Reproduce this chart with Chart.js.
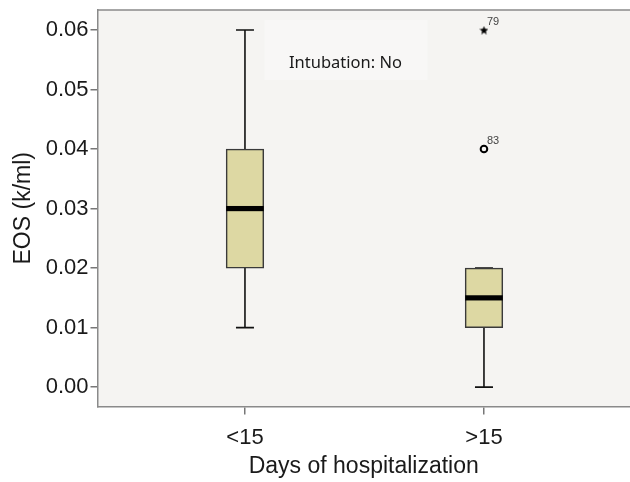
<!DOCTYPE html>
<html>
<head>
<meta charset="utf-8">
<script src="https://cdn.jsdelivr.net/npm/chart.js@4.4.1/dist/chart.umd.min.js"></script>
<style>
  html, body { margin: 0; padding: 0; background: #ffffff; }
  #wrap { width: 630px; height: 482px; position: relative; }
</style>
</head>
<body>
<div id="wrap"><canvas id="c" width="630" height="482"></canvas></div>
<script>
// ---- data ----
const categories = ['<15', '>15'];
const whiskerMin = [0.01, 0.00];
const q1Values = [0.02, 0.01];
const medianValues = [0.03, 0.015];
const q3Values = [0.04, 0.02];
const whiskerMax = [0.06, 0.02];
const outlierCategory = [1, 1];          // index into categories
const outlierValues = [0.06, 0.04];
const outlierLabels = ['79', '83'];
const outlierKinds = ['extreme', 'outlier'];
const yTickValues = [0, 0.01, 0.02, 0.03, 0.04, 0.05, 0.06];
const annotationText = 'Intubation: No';

// star point image for the extreme value
function makeStar(size) {
  const cv = document.createElement('canvas');
  cv.width = size; cv.height = size;
  const g = cv.getContext('2d');
  const cx = size / 2, cy = size / 2 + 0.5, R = size / 2, r = R * 0.45;
  g.beginPath();
  for (let i = 0; i < 10; i++) {
    const ang = -Math.PI / 2 + i * Math.PI / 5;
    const rad = i % 2 === 0 ? R : r;
    g.lineTo(cx + rad * Math.cos(ang), cy + rad * Math.sin(ang));
  }
  g.closePath();
  g.fillStyle = '#000';
  g.fill();
  return cv;
}
const starImg = makeStar(9);

const boxData = categories.map((c, i) => ({ x: i + 1, y: [q1Values[i], q3Values[i]] }));
const outlierData = outlierValues.map((v, i) => ({ x: outlierCategory[i] + 1, y: v }));

const bgPlugin = {
  id: 'bg',
  beforeDraw(chart) {
    const { ctx, chartArea: a } = chart;
    ctx.save();
    ctx.fillStyle = '#f5f4f2';
    ctx.fillRect(a.left, a.top, a.right - a.left, a.bottom - a.top);
    // annotation box
    const bx = a.left + 167, by = a.top + 10, bw = 163, bh = 60;
    ctx.fillStyle = '#f8f7f6';
    ctx.fillRect(bx, by, bw, bh);
    ctx.fillStyle = '#1a1a1a';
    ctx.font = '16.5px "Noto Sans"';
    ctx.textAlign = 'center';
    ctx.textBaseline = 'middle';
    ctx.fillText(annotationText, bx + bw / 2 - 0.5, by + 43);
    // top border
    ctx.strokeStyle = '#8a8a8a';
    ctx.lineWidth = 1.5;
    ctx.beginPath();
    ctx.moveTo(a.left, a.top);
    ctx.lineTo(a.right, a.top);
    ctx.stroke();
    ctx.restore();
  }
};

const boxPlugin = {
  id: 'boxparts',
  beforeDatasetsDraw(chart) {
    const { ctx, scales: { x, y } } = chart;
    ctx.save();
    ctx.strokeStyle = '#111';
    ctx.lineWidth = 1.6;
    categories.forEach((c, i) => {
      const px = x.getPixelForValue(i + 1);
      const capHalf = 9;
      ctx.beginPath();
      ctx.moveTo(px, y.getPixelForValue(q3Values[i]));
      ctx.lineTo(px, y.getPixelForValue(whiskerMax[i]));
      ctx.moveTo(px - capHalf, y.getPixelForValue(whiskerMax[i]));
      ctx.lineTo(px + capHalf, y.getPixelForValue(whiskerMax[i]));
      ctx.moveTo(px, y.getPixelForValue(q1Values[i]));
      ctx.lineTo(px, y.getPixelForValue(whiskerMin[i]));
      ctx.moveTo(px - capHalf, y.getPixelForValue(whiskerMin[i]));
      ctx.lineTo(px + capHalf, y.getPixelForValue(whiskerMin[i]));
      ctx.stroke();
    });
    ctx.restore();
  },
  afterDatasetsDraw(chart) {
    const { ctx, scales: { x, y } } = chart;
    ctx.save();
    const meta = chart.getDatasetMeta(0);
    categories.forEach((c, i) => {
      const bar = meta.data[i];
      const half = bar.width / 2;
      const px = x.getPixelForValue(i + 1);
      const py = y.getPixelForValue(medianValues[i]);
      ctx.fillStyle = '#000';
      ctx.fillRect(px - half, py - 2.6, half * 2, 5.2);
    });
    const m2 = chart.getDatasetMeta(1);
    ctx.fillStyle = '#444';
    ctx.font = '11px "Liberation Sans", Arial';
    ctx.textAlign = 'left';
    ctx.textBaseline = 'alphabetic';
    m2.data.forEach((pt, i) => {
      ctx.fillText(outlierLabels[i], pt.x + 3, pt.y - 5);
    });
    ctx.restore();
  }
};

new Chart(document.getElementById('c'), {
  type: 'bar',
  data: {
    datasets: [
      {
        type: 'bar',
        data: boxData,
        backgroundColor: '#ddd8a3',
        borderColor: '#3a3a3a',
        borderWidth: 1.5,
        borderSkipped: false,
        barThickness: 37.6,
        order: 2
      },
      {
        type: 'scatter',
        data: outlierData,
        pointStyle: outlierKinds.map(k => k === 'extreme' ? starImg : 'circle'),
        pointRadius: 3.3,
        pointBorderWidth: 2,
        pointBorderColor: '#000',
        pointBackgroundColor: 'rgba(0,0,0,0)',
        order: 1
      }
    ]
  },
  options: {
    responsive: false,
    animation: false,
    events: [],
    layout: { autoPadding: false, padding: { top: 10, right: 0, bottom: 0, left: 0 } },
    plugins: { legend: { display: false }, tooltip: { enabled: false } },
    scales: {
      x: {
        type: 'linear',
        min: 0.383,
        max: 2.611,
        offset: false,
        afterFit(s) { s.height = 75.5; s.paddingLeft = 0; s.paddingRight = 0; },
        afterBuildTicks(s) { s.ticks = categories.map((c, i) => ({ value: i + 1 })); },
        ticks: {
          autoSkip: false,
          maxRotation: 0,
          padding: 10,
          color: '#1a1a1a',
          font: { family: '"Liberation Sans", Arial', size: 22 },
          callback(v) { return categories[Math.round(v) - 1]; }
        },
        grid: { display: true, offset: false, drawOnChartArea: false, tickLength: 8, color: '#777', lineWidth: 1.5 },
        border: { display: true, color: '#8a8a8a', width: 1.5 },
        title: {
          display: true,
          text: 'Days of hospitalization',
          color: '#1a1a1a',
          font: { family: '"Liberation Sans", Arial', size: 23 },
          padding: { top: 2, bottom: 2 }
        }
      },
      y: {
        type: 'linear',
        min: -0.00325,
        max: 0.06336,
        afterFit(s) { s.width = 97.5; s.paddingTop = 0; s.paddingBottom = 0; },
        afterBuildTicks(s) { s.ticks = yTickValues.map(v => ({ value: v })); },
        ticks: {
          padding: 2,
          color: '#1a1a1a',
          font: { family: '"Liberation Sans", Arial', size: 22 },
          callback(v) { return Number(v).toFixed(2); }
        },
        grid: { display: true, drawOnChartArea: false, tickLength: 7, color: '#777', lineWidth: 1.5 },
        border: { display: true, color: '#8a8a8a', width: 1.5 },
        title: {
          display: true,
          text: 'EOS (k/ml)',
          color: '#1a1a1a',
          font: { family: '"Liberation Sans", Arial', size: 23 },
          padding: { top: 10, bottom: 10 }
        }
      }
    }
  },
  plugins: [bgPlugin, boxPlugin]
});
</script>
</body>
</html>
